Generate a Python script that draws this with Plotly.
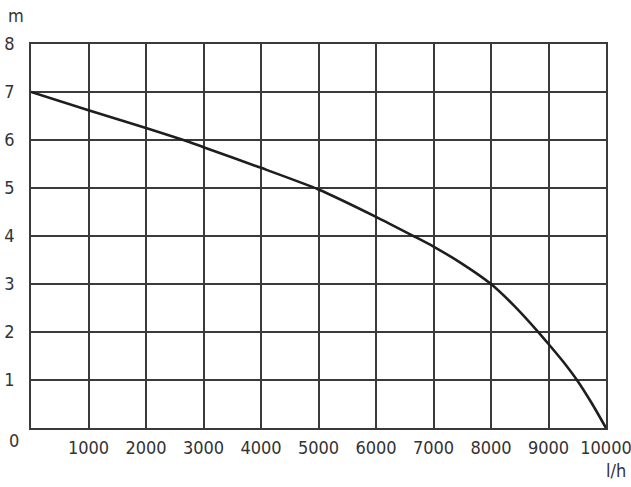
import plotly.graph_objects as go

flow = [0, 1000, 2000, 2650, 3000, 4000, 5000, 6000, 6650, 7000, 7500, 8000, 8400, 8800, 9000, 9250, 9500, 9750, 10000]
head = [7.0, 6.62, 6.25, 6.0, 5.85, 5.42, 4.97, 4.4, 4.0, 3.78, 3.42, 3.0, 2.55, 2.03, 1.75, 1.39, 0.99, 0.52, 0.0]

x_ticks = [1000, 2000, 3000, 4000, 5000, 6000, 7000, 8000, 9000, 10000]
y_ticks = [1, 2, 3, 4, 5, 6, 7, 8]

font_family = "DejaVu Sans Condensed, Liberation Sans Narrow, sans-serif"
grid_color = "#3a3a3a"
txt_color = "#333333"

fig = go.Figure()
fig.add_trace(go.Scatter(x=flow, y=head, mode="lines",
                         line=dict(color="#1e1e1e", width=2.6, shape="spline", smoothing=0.6),
                         showlegend=False, hoverinfo="skip"))

L, R, T, B = 31, 25, 44, 59
W, H = 631, 487

fig.update_layout(
    width=W, height=H,
    margin=dict(l=L, r=R, t=T, b=B),
    paper_bgcolor="white", plot_bgcolor="white",
    font=dict(family=font_family, size=18, color=txt_color),
    xaxis=dict(range=[0, 10000], tickvals=x_ticks, ticktext=[str(v) for v in x_ticks],
               showgrid=True, gridcolor=grid_color, gridwidth=1.6,
               showline=True, linecolor=grid_color, linewidth=1.6, mirror=True,
               zeroline=False, ticks="", ticklabelstandoff=3, automargin=False,
               ticklabeloverflow="allow"),
    yaxis=dict(range=[0, 8], tickvals=y_ticks, ticktext=[str(v) for v in y_ticks],
               showgrid=True, gridcolor=grid_color, gridwidth=1.6,
               showline=True, linecolor=grid_color, linewidth=1.6, mirror=True,
               zeroline=False, ticks="", ticklabelstandoff=11, automargin=False,
               ticklabeloverflow="allow"),
)

pw = W - L - R
ph = H - T - B
labels = [("0", 14, 440), ("m", 16, 15), ("l/h", 616, 470)]
for text, px, py in labels:
    fig.add_annotation(text=text, x=(px - L) / pw, y=1 - (py - T) / ph,
                       xref="paper", yref="paper", showarrow=False,
                       xanchor="center", yanchor="middle",
                       font=dict(size=18, color=txt_color))

fig.write_html("out.html")
